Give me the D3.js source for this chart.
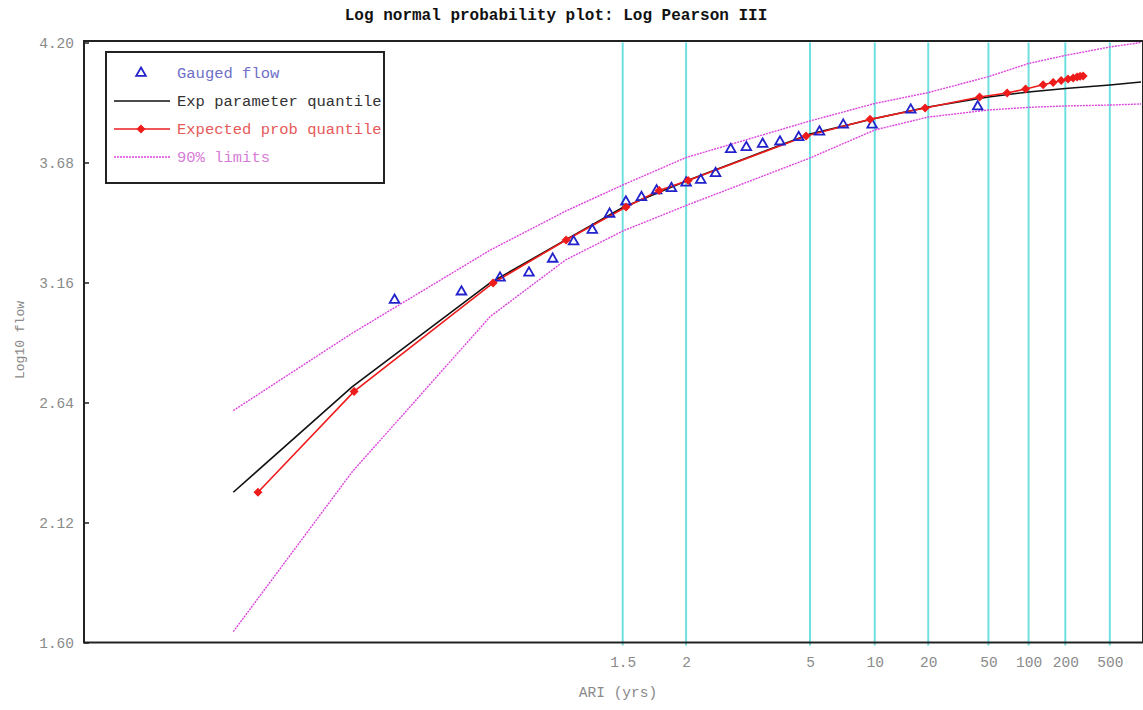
<!DOCTYPE html>
<html>
<head>
<meta charset="utf-8">
<script src="https://cdn.jsdelivr.net/npm/d3@7"></script>
<style>
  html, body { margin: 0; padding: 0; background: #fff; }
  svg { display: block; }
  text { font-family: "Liberation Mono", "DejaVu Sans Mono", monospace; }
</style>
</head>
<body>
<svg id="chart" width="1143" height="710"></svg>
<script>
// ---- data (ARI in years, log10 of flow) ----
const ariTicks = [1.5, 2, 5, 10, 20, 50, 100, 200, 500];
const yTicks = [1.60, 2.12, 2.64, 3.16, 3.68, 4.20];

// Gauged annual maxima at their plotting positions
const gaugedAri = [42.0, 15.75, 9.692, 7.0, 5.478, 4.5, 3.818, 3.316, 2.930, 2.625,
                   2.377, 2.172, 2.0, 1.853, 1.726, 1.615, 1.518, 1.432, 1.355, 1.286,
                   1.223, 1.1667, 1.1150, 1.0678, 1.0244];
const gaugedFlow = [3.922, 3.908, 3.843, 3.843, 3.813, 3.789, 3.770, 3.760, 3.746, 3.737,
                    3.633, 3.604, 3.592, 3.568, 3.558, 3.529, 3.510, 3.457, 3.387, 3.337,
                    3.262, 3.202, 3.180, 3.120, 3.084];

// Quantiles from the expected parameters, with 90% confidence limits
const quantAri = [1.00105, 1.01177, 1.1007, 1.26, 1.5, 2, 5, 10, 20, 50, 100, 200, 500, 1000];
const expParamQ = [2.251, 2.708, 3.158, 3.344, 3.485, 3.600, 3.8035, 3.871, 3.9205, 3.964,
                   3.9855, 4.0007, 4.016, 4.029];
const upper90 = [2.605, 2.940, 3.300, 3.469, 3.5825, 3.7017, 3.860, 3.9357, 3.983, 4.052,
                 4.109, 4.144, 4.1805, 4.200];
const lower90 = [1.647, 2.339, 3.012, 3.2575, 3.383, 3.4937, 3.6995, 3.821, 3.877, 3.9075,
                 3.919, 3.925, 3.929, 3.9335];

// Expected probability quantiles
const expProbAri = [1.00182, 1.01221, 1.1049, 1.2618, 1.519, 1.746, 2.022, 4.82, 9.46, 19.15,
                    43.3, 68.5, 94.8, 130.7, 158, 184.5, 211, 233.6, 253, 269, 286];
const expProbQ = [2.251, 2.688, 3.158, 3.344, 3.487, 3.559, 3.602, 3.795, 3.867, 3.916,
                  3.964, 3.981, 3.9985, 4.017, 4.027, 4.035, 4.042, 4.046, 4.0505, 4.0535, 4.055];

// ---- inverse standard normal CDF (Acklam) ----
function invNorm(p) {
  const a = [-3.969683028665376e+01, 2.209460984245205e+02, -2.759285104469687e+02,
             1.383577518672690e+02, -3.066479806614716e+01, 2.506628277459239e+00];
  const b = [-5.447609879822406e+01, 1.615858368580409e+02, -1.556989798598866e+02,
             6.680131188771972e+01, -1.328068155288572e+01];
  const c = [-7.784894002430293e-03, -3.223964580411365e-01, -2.400758277161838e+00,
             -2.549732539343734e+00, 4.374664141464968e+00, 2.938163969675530e+00];
  const d = [7.784695709041462e-03, 3.224671290700398e-01, 2.445134137142996e+00,
             3.754408661907416e+00];
  const pl = 0.02425, ph = 1 - pl;
  let q, r;
  if (p < pl) {
    q = Math.sqrt(-2 * Math.log(p));
    return (((((c[0]*q+c[1])*q+c[2])*q+c[3])*q+c[4])*q+c[5]) /
           ((((d[0]*q+d[1])*q+d[2])*q+d[3])*q+1);
  }
  if (p <= ph) {
    q = p - 0.5; r = q * q;
    return (((((a[0]*r+a[1])*r+a[2])*r+a[3])*r+a[4])*r+a[5])*q /
           (((((b[0]*r+b[1])*r+b[2])*r+b[3])*r+b[4])*r+1);
  }
  q = Math.sqrt(-2 * Math.log(1 - p));
  return -(((((c[0]*q+c[1])*q+c[2])*q+c[3])*q+c[4])*q+c[5]) /
          ((((d[0]*q+d[1])*q+d[2])*q+d[3])*q+1);
}
// standard normal variate for a given average recurrence interval
const zOf = ari => invNorm(1 - 1 / ari);

// ---- layout ----
const svg = d3.select("#chart");
const L = 84, R = 1141, T = 42.5, B = 642.5;
const x = d3.scaleLinear().domain([-4.09, 3.09]).range([L, R]);
const y = d3.scaleLinear().domain([1.6, 4.2]).range([B, T]);
const xA = a => x(zOf(a));

// clip for curves
svg.append("defs").append("clipPath").attr("id", "plotclip")
  .append("rect").attr("x", L).attr("y", T - 2).attr("width", R - L).attr("height", B - T + 2);

// vertical ARI grid lines
svg.append("g").selectAll("line").data(ariTicks).join("line")
  .attr("x1", d => xA(d)).attr("x2", d => xA(d))
  .attr("y1", T).attr("y2", B + 3)
  .attr("stroke", "#6fe0e0").attr("stroke-width", 2);

// axes
const yAxis = d3.axisLeft(y).tickValues(yTicks).tickFormat(d3.format(".2f"))
  .tickSizeInner(-5).tickSizeOuter(0).tickPadding(10);
const gy = svg.append("g").attr("transform", `translate(${L},0)`).call(yAxis);
gy.select(".domain").remove();
gy.selectAll(".tick line").attr("stroke", "#222").attr("stroke-width", 1.5);
gy.selectAll(".tick text").attr("fill", "#8a8a8a").style("font-size", "14.5px")
  .style("font-family", "Liberation Mono, monospace");

const xAxis = d3.axisBottom(x).tickValues(ariTicks.map(zOf))
  .tickFormat((d, i) => String(ariTicks[i])).tickSize(0).tickPadding(14);
const gx = svg.append("g").attr("transform", `translate(0,${B})`).call(xAxis);
gx.select(".domain").remove();
gx.selectAll(".tick text").attr("fill", "#8a8a8a").style("font-size", "14.5px")
  .style("font-family", "Liberation Mono, monospace");

// plot frame
svg.append("rect").attr("x", L).attr("y", T - 1.5).attr("width", R - L + 2).attr("height", B - T + 1.5)
  .attr("fill", "none").attr("stroke", "#222").attr("stroke-width", 2);

const plot = svg.append("g").attr("clip-path", "url(#plotclip)");
const line = d3.line();

// 90% limits
[upper90, lower90].forEach(arr => {
  plot.append("path")
    .attr("d", line(quantAri.map((a, i) => [xA(a), y(arr[i])])))
    .attr("fill", "none").attr("stroke", "#dd44dd").attr("stroke-width", 1.4)
    .attr("stroke-dasharray", "2,1");
});

// expected parameter quantile
plot.append("path")
  .attr("d", line(quantAri.map((a, i) => [xA(a), y(expParamQ[i])])))
  .attr("fill", "none").attr("stroke", "#111").attr("stroke-width", 1.6);

// gauged flow markers (open triangles)
const tri = d3.symbol().type(d3.symbolTriangle).size(40);
svg.append("g").selectAll("path").data(gaugedAri).join("path")
  .attr("d", tri)
  .attr("transform", (d, i) => `translate(${xA(d)},${y(gaugedFlow[i])})`)
  .attr("fill", "none").attr("stroke", "#2222cc").attr("stroke-width", 1.8);

// expected probability quantile
plot.append("path")
  .attr("d", line(expProbAri.map((a, i) => [xA(a), y(expProbQ[i])])))
  .attr("fill", "none").attr("stroke", "#ee1c1c").attr("stroke-width", 1.6);
const dia = d3.symbol().type(d3.symbolDiamond2).size(34);
svg.append("g").selectAll("path").data(expProbAri).join("path")
  .attr("d", dia)
  .attr("transform", (d, i) => `translate(${xA(d)},${y(expProbQ[i])})`)
  .attr("fill", "#ee1c1c").attr("stroke", "#ee1c1c").attr("stroke-width", 1.2);

// titles
svg.append("text").attr("x", 556).attr("y", 20).attr("text-anchor", "middle")
  .attr("fill", "#111").style("font-size", "16px").style("font-weight", "bold")
  .text("Log normal probability plot: Log Pearson III");
svg.append("text").attr("x", 618).attr("y", 697).attr("text-anchor", "middle")
  .attr("fill", "#8a8a8a").style("font-size", "14.5px").text("ARI (yrs)");
svg.append("text").attr("transform", "translate(24,340) rotate(-90)").attr("text-anchor", "middle")
  .attr("fill", "#8a8a8a").style("font-size", "13px").text("Log10 flow");

// legend
const lg = svg.append("g");
lg.append("rect").attr("x", 106).attr("y", 52).attr("width", 278).attr("height", 131)
  .attr("fill", "#fff").attr("stroke", "#222").attr("stroke-width", 2);
const legendItems = [
  { label: "Gauged flow", color: "#6f6fc8", kind: "tri" },
  { label: "Exp parameter quantile", color: "#333", kind: "black" },
  { label: "Expected prob quantile", color: "#e65a5a", kind: "red" },
  { label: "90% limits", color: "#d77cd7", kind: "mag" }
];
legendItems.forEach((it, i) => {
  const cy = 73 + i * 28;
  if (it.kind === "tri") {
    lg.append("path").attr("d", tri).attr("transform", `translate(141,${cy})`)
      .attr("fill", "none").attr("stroke", "#2222cc").attr("stroke-width", 1.8);
  } else if (it.kind === "black") {
    lg.append("line").attr("x1", 114).attr("x2", 170).attr("y1", cy).attr("y2", cy)
      .attr("stroke", "#111").attr("stroke-width", 1.6);
  } else if (it.kind === "red") {
    lg.append("line").attr("x1", 114).attr("x2", 170).attr("y1", cy).attr("y2", cy)
      .attr("stroke", "#ee1c1c").attr("stroke-width", 1.6);
    lg.append("path").attr("d", dia).attr("transform", `translate(141,${cy})`)
      .attr("fill", "#ee1c1c").attr("stroke", "#ee1c1c").attr("stroke-width", 1.2);
  } else {
    lg.append("line").attr("x1", 114).attr("x2", 170).attr("y1", cy).attr("y2", cy)
      .attr("stroke", "#dd44dd").attr("stroke-width", 1.4).attr("stroke-dasharray", "2,1");
  }
  lg.append("text").attr("x", 177).attr("y", cy + 5).attr("fill", it.color)
    .style("font-size", "15.5px").text(it.label);
});
</script>
</body>
</html>
